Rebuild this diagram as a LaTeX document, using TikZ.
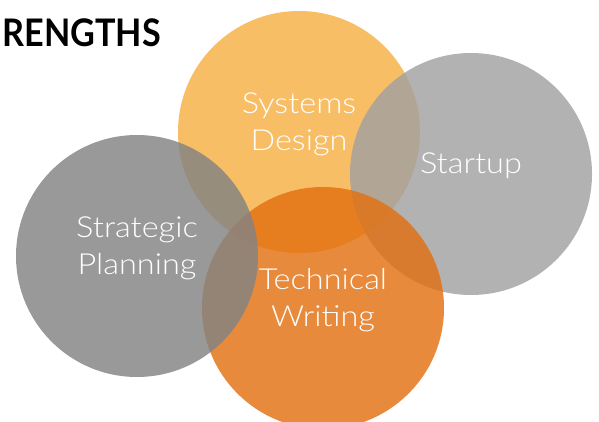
\documentclass[tikz,border=0pt]{standalone}
\usepackage{fontspec}
\setmainfont{Lato}[UprightFont=* Light,FakeStretch=1.12]
\newfontfamily\titlefont{Lato}[UprightFont=* Bold,FakeStretch=0.9]

\definecolor{designorange}{RGB}{246,176,68}
\definecolor{startgray}{RGB}{161,161,161}
\definecolor{writingorange}{RGB}{227,112,17}
\definecolor{plangray}{RGB}{131,131,131}

\begin{document}
\begin{tikzpicture}[x=1pt,y=-1pt,
        bubble/.style={circle,minimum size=242pt,inner sep=0pt,fill opacity=0.82},
        bubbletext/.style={text=white,align=center,font=\fontsize{29}{37}\selectfont}]
        \useasboundingbox (0,0) rectangle (599,422);
        \clip (0,0) rectangle (599,422);

        % circles, back to front
        \node[bubble,fill=designorange] (design) at (299,132) {};
        \node[bubble,fill=startgray] (startup) at (471,174) {};
        \node[bubble,fill=writingorange] (writing) at (323,308) {};
        \node[bubble,fill=plangray] (planning) at (137,256) {};

        % labels
        \node[bubbletext] (design text) at ([yshift=8pt]design.center) {Systems\\Design};
        \node[bubbletext] (startup text) at ([yshift=8pt]startup.center) {Startup};
        \node[bubbletext] (writing text) at ([yshift=8pt]writing.center) {Technical\\Writing};
        \node[bubbletext] (planning text) at ([yshift=8pt]planning.center) {Strategic\\Planning};

        \node[anchor=base west,font=\titlefont\fontsize{38}{38}\selectfont] (title) at (-1,47) {RENGTHS};
        \end{tikzpicture}
\end{document}
